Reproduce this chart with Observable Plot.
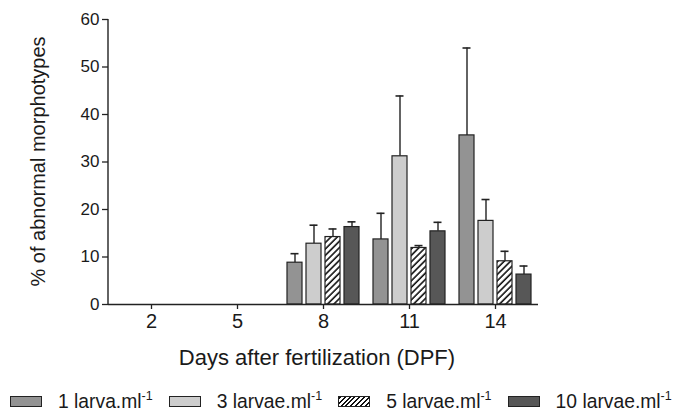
<!DOCTYPE html>
<html><head><meta charset="utf-8">
<script src="https://cdn.jsdelivr.net/npm/d3@7"></script>
<script src="https://cdn.jsdelivr.net/npm/@observablehq/plot@0.6"></script>
<style>
body{margin:0;background:#fff;font-family:"Liberation Sans",Arial,sans-serif;color:#1a1a1a;width:679px;height:415px;overflow:hidden}
#legend{display:flex;align-items:center;height:43px;padding-left:10px;box-sizing:border-box;padding-top:16px;font-size:19.3px;white-space:nowrap}
.item{display:flex;align-items:center;margin-right:16px}
.sw{width:32px;height:11px;border:1.2px solid #222;margin-right:16px;box-sizing:border-box}
sup{font-size:12.5px;vertical-align:8px;line-height:0}
</style></head><body>
<div id="chart"></div>
<div id="legend"></div>
<script>
const days = [2, 5, 8, 11, 14];
const series = ["1 larva.ml", "3 larvae.ml", "5 larvae.ml", "10 larvae.ml"];
const fills = ["#939393", "#cdcdcd", "url(#hatch)", "#575757"];
const yTicks = [0, 10, 20, 30, 40, 50, 60];
// mean values per series, by day (null = no bar)
const values1 = [null, null, 8.8, 13.7, 35.6];
const values2 = [null, null, 12.8, 31.2, 17.6];
const values3 = [null, null, 14.2, 11.9, 9.1];
const values4 = [null, null, 16.3, 15.4, 6.3];
// error (upper whisker length)
const errors1 = [null, null, 1.9, 5.5, 18.4];
const errors2 = [null, null, 3.9, 12.7, 4.5];
const errors3 = [null, null, 1.7, 0.5, 2.1];
const errors4 = [null, null, 1.1, 1.9, 1.8];

const values = [values1, values2, values3, values4];
const errors = [errors1, errors2, errors3, errors4];
const rows = [];
days.forEach((d, i) => series.forEach((s, j) => {
  if (values[j][i] != null) rows.push({day: d, series: s, value: values[j][i], hi: values[j][i] + errors[j][i]});
}));

const ink = "#222";
const chart = Plot.plot({
  width: 679, height: 372,
  marginLeft: 108, marginRight: 141, marginTop: 19, marginBottom: 68,
  style: {fontFamily: "'Liberation Sans', Arial, sans-serif", color: "#1a1a1a", background: "white", overflow: "visible"},
  fx: {domain: days, padding: 0, label: null},
  x: {domain: series, paddingInner: 0.22, paddingOuter: 0.34, axis: null},
  y: {domain: [0, 60]},
  color: {domain: series, range: fills},
  marks: [
    Plot.ruleX(rows, {fx: "day", x: "series", y1: "value", y2: "hi", stroke: ink, strokeWidth: 1.4}),
    Plot.tickY(rows, {fx: "day", x: "series", y: "hi", stroke: ink, strokeWidth: 1.6, insetLeft: 3.5, insetRight: 3.5}),
    Plot.barY(rows, {fx: "day", x: "series", y: "value", fill: "series", stroke: ink, strokeWidth: 1.2}),
    // baseline drawn in every day's facet (keeps all facets non-empty)
    Plot.ruleY(days, {fx: d => d, y: () => 0, stroke: ink, strokeWidth: 1.4}),
    Plot.axisY({ticks: yTicks, tickSize: 6, tickPadding: 3, fontSize: 17, label: null, stroke: ink, strokeWidth: 1.3}),
    Plot.axisFx({anchor: "bottom", tickSize: 5, tickPadding: 4, fontSize: 20, label: null, stroke: ink, strokeWidth: 1.3})
  ]
});

// hatch pattern for the 5 larvae series
const s = d3.select(chart);
const defs = s.insert("defs", ":first-child");
const pat = defs.append("pattern").attr("id", "hatch").attr("patternUnits", "userSpaceOnUse")
  .attr("width", 4.5).attr("height", 4.5).attr("patternTransform", "rotate(45)");
pat.append("rect").attr("width", 4.5).attr("height", 4.5).attr("fill", "white");
pat.append("line").attr("x1", 1).attr("y1", 0).attr("x2", 1).attr("y2", 4.5).attr("stroke", "#111").attr("stroke-width", 1.6);

// y axis line and titles, positioned from the scales
const fx = chart.scale("fx"), y = chart.scale("y");
const x0 = fx.range[0], x1 = fx.range[1];
s.append("line").attr("x1", x0).attr("x2", x0).attr("y1", y.apply(0)).attr("y2", y.apply(60))
  .attr("stroke", ink).attr("stroke-width", 1.4);
s.append("text").attr("transform", `translate(38,${(y.apply(0) + y.apply(60)) / 2}) rotate(-90)`)
  .attr("text-anchor", "middle").attr("dy", "0.35em").attr("font-size", 20).attr("fill", "#1a1a1a")
  .text("% of abnormal morphotypes");
s.append("text").attr("x", (x0 + x1) / 2 - 6).attr("y", 365)
  .attr("text-anchor", "middle").attr("font-size", 22).attr("fill", "#1a1a1a")
  .text("Days after fertilization (DPF)");
document.getElementById("chart").appendChild(chart);

// legend
const legend = d3.select("#legend");
series.forEach((name, i) => {
  const it = legend.append("div").attr("class", "item");
  const sw = it.append("div").attr("class", "sw");
  if (i === 2) sw.style("background", "repeating-linear-gradient(-45deg, #fff 0 2px, #111 2px 3.4px)");
  else sw.style("background", fills[i]);
  it.append("span").html(name + "<sup>-1</sup>");
});
</script>
</body></html>
